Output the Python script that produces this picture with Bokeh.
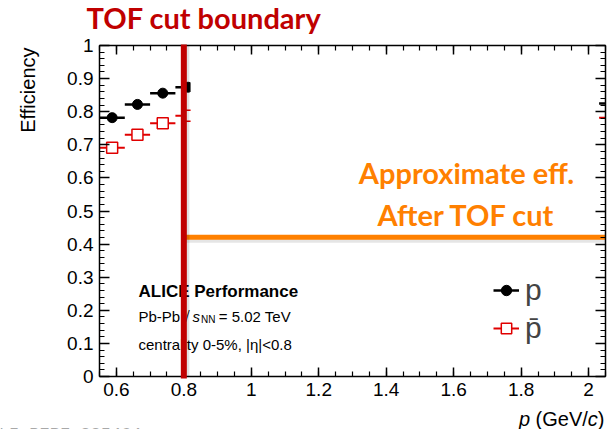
import numpy as np
from bokeh.plotting import figure
from bokeh.models import (Label, Arrow, Legend, LegendItem, LinearAxis, FixedTicker,
                          CustomJSTickFormatter, Range1d)
from bokeh.embed import file_html
from bokeh.resources import INLINE

# Efficiency per momentum bin (bin centre, half width) for protons and antiprotons
bin_center = [0.5875, 0.6625, 0.7375, 0.8125, 2.0]
bin_halfwidth = [0.0375, 0.0375, 0.0375, 0.0375, 0.05]
eff_p = [0.782, 0.822, 0.856, 0.874, 0.825]
eff_pbar = [0.691, 0.730, 0.765, 0.788, 0.782]

# Annotated values
tof_cut_p = 0.8
approx_eff_after_cut = 0.421

x_lim = (0.55, 2.05)
y_lim = (0.0, 1.0)
x_ticks = [0.6, 0.8, 1.0, 1.2, 1.4, 1.6, 1.8, 2.0]
y_ticks = [0.0, 0.1, 0.2, 0.3, 0.4, 0.5, 0.6, 0.7, 0.8, 0.9, 1.0]
x_minor = [round(0.55 + 0.05 * i, 3) for i in range(31)]
y_minor = [round(0.02 * i, 3) for i in range(51)]

RED = "#c00000"
ORANGE = "#ff8000"
PBAR = "#e00000"
SANS = "Liberation Sans"

# canvas size and the pixel box of the axes frame inside it
W, H = 616, 429
FL, FR, FT, FB = 99, 605, 45, 376

sx = (FR - FL) / (x_lim[1] - x_lim[0])
sy = (FB - FT) / (y_lim[1] - y_lim[0])
x_range = Range1d(x_lim[0] - FL / sx, x_lim[1] + (W - FR) / sx)
y_range = Range1d(y_lim[0] - (H - FB) / sy, y_lim[1] + FT / sy)

p = figure(width=W, height=H, x_range=x_range, y_range=y_range,
           output_backend="svg", toolbar_location=None, min_border=0)
p.xgrid.visible = False
p.ygrid.visible = False
p.outline_line_color = None
p.background_fill_color = "white"
p.border_fill_color = "white"

fmt = CustomJSTickFormatter(code="return Number(tick.toFixed(2)).toString();")
blank = CustomJSTickFormatter(code="return '';")

def style_axis(ax, ticks, minor, bounds, loc, tick_len, minor_len, labels=True):
    ax.ticker = FixedTicker(ticks=ticks, minor_ticks=minor)
    ax.bounds = bounds
    ax.fixed_location = loc
    ax.axis_line_width = 1.5
    ax.axis_line_color = "black"
    ax.major_tick_in = tick_len
    ax.major_tick_out = 0
    ax.minor_tick_in = minor_len
    ax.minor_tick_out = 0
    ax.major_tick_line_width = 1.5
    ax.minor_tick_line_width = 1.2
    ax.major_tick_line_color = "black"
    ax.minor_tick_line_color = "black"
    if labels:
        ax.formatter = fmt
        ax.major_label_text_font = SANS
        ax.major_label_text_font_size = "19px"
        ax.major_label_text_color = "black"
        ax.major_label_standoff = 6
    else:
        ax.formatter = blank
        ax.major_label_text_font_size = "0px"
        ax.major_label_standoff = 0

style_axis(p.xaxis[0], x_ticks, x_minor, x_lim, y_lim[0], 9, 5)
style_axis(p.yaxis[0], y_ticks, y_minor, y_lim, x_lim[0], 10, 5)
top_ax = LinearAxis()
right_ax = LinearAxis()
style_axis(top_ax, x_ticks, x_minor, x_lim, y_lim[1], 9, 5, labels=False)
style_axis(right_ax, y_ticks, y_minor, y_lim, x_lim[1], 10, 5, labels=False)
p.add_layout(top_ax, "above")
p.add_layout(right_ax, "right")

xc = np.array(bin_center)
hw = np.array(bin_halfwidth)

seg_p = p.segment(x0=xc - hw, x1=xc + hw, y0=eff_p, y1=eff_p, line_color="black", line_width=2.5)
sc_p = p.scatter(xc, eff_p, marker="circle", size=10, fill_color="black", line_color="black")
seg_pb = p.segment(x0=xc - hw, x1=xc + hw, y0=eff_pbar, y1=eff_pbar, line_color=PBAR, line_width=2)
sc_pb = p.scatter(xc, eff_pbar, marker="square", size=11, fill_color="white",
                  line_color=PBAR, line_width=1.5)

# white panel laid over the high-momentum region
p.quad(left=0.82, right=2.031, bottom=0.44, top=0.94, fill_color="white", line_color=None)

# efficiency level after the cut, with a soft drop shadow
p.segment(x0=tof_cut_p, x1=x_lim[1], y0=approx_eff_after_cut - 0.008, y1=approx_eff_after_cut - 0.008,
          line_color="#000000", line_alpha=0.10, line_width=6)
p.segment(x0=tof_cut_p, x1=x_lim[1], y0=approx_eff_after_cut, y1=approx_eff_after_cut,
          line_color=ORANGE, line_width=5)

legend = Legend(items=[LegendItem(label="p", renderers=[seg_p, sc_p]),
                       LegendItem(label="p\u0304", renderers=[seg_pb, sc_pb])],
                location=(493, 82), orientation="vertical",
                label_text_font=SANS, label_text_font_size="30px", label_standoff=6,
                glyph_width=26, glyph_height=38, label_height=38, spacing=0,
                padding=0, margin=0, border_line_color=None, background_fill_alpha=0)
p.add_layout(legend, "center")

def lab(text, x, y, size, color="black", style="normal", align="left", baseline="alphabetic",
        font=SANS, angle=0.0):
    # x, y in pixels from the canvas' lower-left corner
    p.add_layout(Label(text=text, x=x, y=y, x_units="screen", y_units="screen",
                       text_font=font, text_font_size=size, text_color=color,
                       text_font_style=style, text_align=align, text_baseline=baseline,
                       angle=angle))

lab("TOF cut boundary", 86, 412, "29px", RED, "bold", font="Lato")
lab("Approximate eff.", 466, 257, "29px", ORANGE, "bold", align="center", font="Lato")
lab("After TOF cut", 466, 215, "29px", ORANGE, "bold", align="center", font="Lato")

lab("Efficiency", 27, 382, "20px", align="right", angle=np.pi / 2)

lab("p", 518.4, 10.5, "20px", style="italic")
lab("(GeV/", 535.1, 10.5, "20px")
lab("c", 587.3, 10.5, "20px", style="italic")
lab(")", 597.3, 10.5, "20px")

lab("ALICE Performance", 138, 138.3, "17px", style="bold")
lab("Pb-Pb", 138, 113.5, "15px")
lab("\u221a", 181, 113.5, "15px")
lab("s", 192, 113.5, "15px", style="italic")
lab("NN", 200.5, 110.5, "10px")
lab("= 5.02 TeV", 218.3, 113.5, "15px")
lab("centrality 0-5%, |\u03b7|<0.8", 138, 85, "15px")

lab("ALI-PERF-335464", -12, 5, "17px", "#a8a8a8", baseline="top", font="Liberation Mono")

# TOF cut boundary marker, drawn above the captions
p.add_layout(Arrow(x_start=tof_cut_p + 0.006, y_start=y_lim[0], x_end=tof_cut_p + 0.006, y_end=y_lim[1],
                   end=None, line_color="#000000", line_alpha=0.12, line_width=7))
p.add_layout(Arrow(x_start=tof_cut_p, y_start=y_lim[0] - 0.006, x_end=tof_cut_p, y_end=y_lim[1] + 0.003,
                   end=None, line_color=RED, line_width=6))

open("out.html", "w").write(file_html(p, INLINE))
